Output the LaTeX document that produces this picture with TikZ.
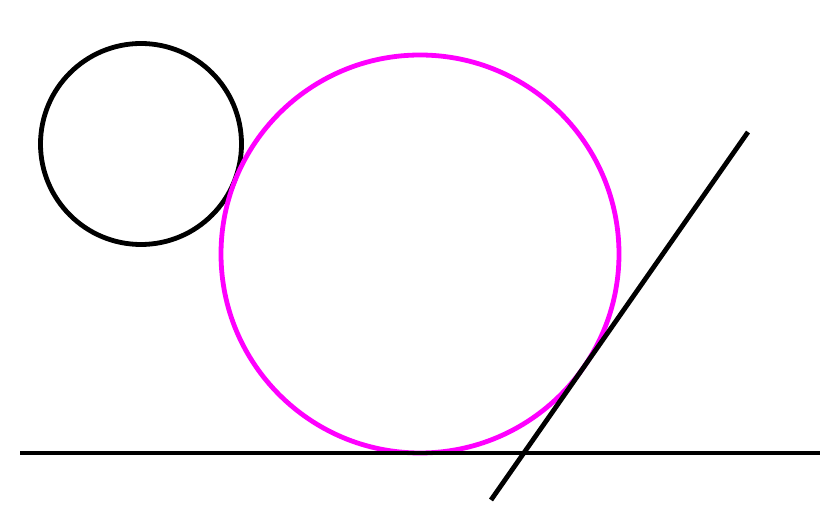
\documentclass[tikz,border=0pt]{standalone}
\usepackage{tikz}

\begin{document}
\begin{tikzpicture}[x=0.75pt,y=0.75pt,yscale=-1,xscale=1]
\useasboundingbox (0,0) rectangle (840,527);
%Shape: Circle [small, black]
\draw  [line width=3.6pt] (141,144) circle (100.5) ;
%Shape: Circle [large, magenta]
\draw  [color={rgb, 255:red, 255; green, 0; blue, 255 }  ,draw opacity=1 ][line width=3.6pt] (420,254) circle (199) ;
%Straight Lines [base]
\draw [line width=3.6pt]    (20,453) -- (820,453) ;
%Straight Lines [tangent]
\draw [line width=3.6pt]    (748,132) -- (491,500) ;
\end{tikzpicture}
\end{document}
